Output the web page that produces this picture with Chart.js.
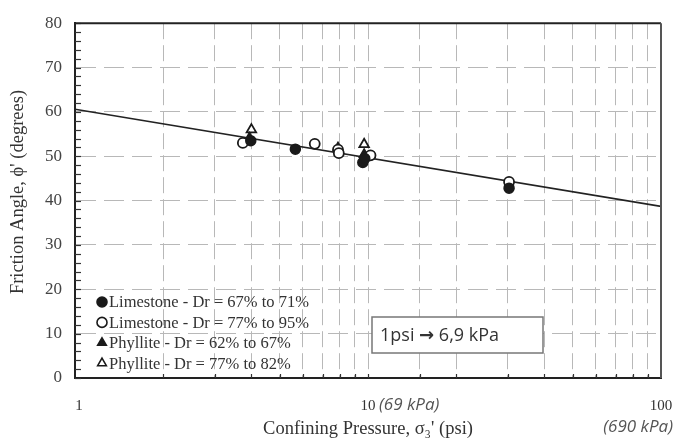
<!DOCTYPE html>
<html>
<head>
<meta charset="utf-8">
<script src="https://cdn.jsdelivr.net/npm/chart.js@4.4.0/dist/chart.umd.min.js"></script>
<style>
  html, body { margin: 0; padding: 0; background: #fff; }
</style>
</head>
<body>
<canvas id="chart" width="675" height="439"></canvas>
<script>
// Values (x = confining pressure in psi, y = friction angle in degrees)
const limeLowX = [3.98, 5.65, 9.6, 9.75, 30.3];
const limeLowY = [53.5, 51.6, 48.6, 49.5, 42.8];
const limeHighX = [3.74, 6.58, 7.9, 7.95, 10.2, 30.3];
const limeHighY = [53.0, 52.8, 51.5, 50.7, 50.2, 44.2];
const phylLowX = [3.94, 7.9, 9.7];
const phylLowY = [54.1, 51.9, 50.4];
const phylHighX = [4.0, 9.7];
const phylHighY = [56.0, 52.7];
const fitX = [1, 100];
const fitY = [60.6, 38.7];

const legendLabels = [
    'Limestone - Dr = 67% to 71%',
    'Limestone - Dr = 77% to 95%',
    'Phyllite - Dr = 62% to 67%',
    'Phyllite - Dr = 77% to 82%'
];
const xTickLabels = ['1', '10', '100'];
const yTickStep = 10;

function toPoints(xs, ys) {
    return xs.map((x, i) => ({ x: x, y: ys[i] }));
}

const ink = '#1a1a1a';
const serif = '"Liberation Serif", "DejaVu Serif", serif';
const sans = '"Open Sans", "Liberation Sans", sans-serif';

// Frame, inner ticks, legend, axis labels and the unit box
const decorPlugin = {
    id: 'decor',
    afterDatasetsDraw(chart) {
        const ctx = chart.ctx;
        const area = chart.chartArea;
        const xs = chart.scales.x;
        const ys = chart.scales.y;
        ctx.save();

        // inner tick marks
        ctx.strokeStyle = '#333';
        ctx.lineWidth = 1.2;
        ys.ticks.forEach(t => {
            const py = Math.round(ys.getPixelForValue(t.value)) + 0.5;
            ctx.beginPath();
            ctx.moveTo(area.left, py);
            ctx.lineTo(area.left + 6, py);
            ctx.stroke();
        });
        xs.ticks.forEach(t => {
            if (t.value <= 1 || t.value >= 100) return;
            const px = Math.round(xs.getPixelForValue(t.value)) + 0.5;
            ctx.beginPath();
            ctx.moveTo(px, area.bottom);
            ctx.lineTo(px, area.bottom - 4);
            ctx.stroke();
        });

        // top and right edges of the frame
        ctx.strokeStyle = '#222';
        ctx.lineWidth = 2;
        ctx.beginPath();
        ctx.moveTo(area.left, area.top);
        ctx.lineTo(area.right, area.top);
        ctx.stroke();
        ctx.strokeStyle = '#555';
        ctx.beginPath();
        ctx.moveTo(area.right, area.top);
        ctx.lineTo(area.right, area.bottom);
        ctx.stroke();

        // legend
        ctx.font = '16.5px ' + serif;
        ctx.textBaseline = 'middle';
        ctx.textAlign = 'left';
        legendLabels.forEach((label, i) => {
            const ds = chart.data.datasets[i];
            const ly = 302 + i * 20.4;
            ctx.fillStyle = ds.backgroundColor;
            ctx.strokeStyle = ds.borderColor;
            ctx.lineWidth = 1.6;
            Chart.helpers.drawPoint(ctx, { pointStyle: ds.pointStyle, radius: 5, borderWidth: 1.6, rotation: 0 }, 102, ly);
            ctx.fillStyle = '#333';
            ctx.fillText(label, 109, ly + 1);
        });

        // unit box
        ctx.fillStyle = '#fff';
        ctx.fillRect(372, 317, 171, 36);
        ctx.strokeStyle = '#777';
        ctx.lineWidth = 1.5;
        ctx.strokeRect(372, 317, 171, 36);
        ctx.fillStyle = '#333';
        ctx.textBaseline = 'alphabetic';
        let bx = 380;
        ctx.font = '18px ' + sans;
        ctx.fillText('1psi ', bx, 341);
        bx += ctx.measureText('1psi ').width;
        ctx.font = 'bold 18px "DejaVu Sans", sans-serif';
        ctx.fillText('\u2192', bx, 341);
        bx += ctx.measureText('\u2192').width;
        ctx.font = '18px ' + sans;
        ctx.fillText(' 6,9 kPa', bx, 341);

        ctx.restore();
    },
    afterDraw(chart) {
        const ctx = chart.ctx;
        const xs = chart.scales.x;
        ctx.save();
        ctx.fillStyle = '#333';
        ctx.textBaseline = 'middle';
        ctx.font = '15px ' + serif;
        ctx.textAlign = 'center';
        ctx.fillText(xTickLabels[0], xs.getPixelForValue(1) + 4, 406);
        ctx.fillText(xTickLabels[1], xs.getPixelForValue(10), 406);
        ctx.fillText(xTickLabels[2], xs.getPixelForValue(100), 406);

        ctx.fillStyle = '#555';
        ctx.font = 'italic 17px ' + sans;
        ctx.textAlign = 'left';
        ctx.fillText('(69 kPa)', 379, 405);
        ctx.textAlign = 'right';
        ctx.fillText('(690 kPa)', 673, 427);

        // axis titles
        ctx.fillStyle = '#333';
        ctx.font = '18.5px ' + serif;
        ctx.textAlign = 'center';
        ctx.fillText('Confining Pressure, \u03c3\u2083\' (psi)', 368, 429);

        ctx.translate(18, 192);
        ctx.rotate(-Math.PI / 2);
        ctx.fillText('Friction Angle, \u03d5\' (degrees)', 0, 0);
        ctx.restore();
    }
};

const ctx = document.getElementById('chart').getContext('2d');
new Chart(ctx, {
    type: 'scatter',
    data: {
        datasets: [
            {
                label: legendLabels[0],
                data: toPoints(limeLowX, limeLowY),
                pointStyle: 'circle',
                pointRadius: 5,
                backgroundColor: ink,
                borderColor: ink,
                borderWidth: 1.5
            },
            {
                label: legendLabels[1],
                data: toPoints(limeHighX, limeHighY),
                pointStyle: 'circle',
                pointRadius: 5,
                backgroundColor: '#fff',
                borderColor: ink,
                borderWidth: 1.8
            },
            {
                label: legendLabels[2],
                data: toPoints(phylLowX, phylLowY),
                pointStyle: 'triangle',
                pointRadius: 5.5,
                backgroundColor: ink,
                borderColor: ink,
                borderWidth: 1.5
            },
            {
                label: legendLabels[3],
                data: toPoints(phylHighX, phylHighY),
                pointStyle: 'triangle',
                pointRadius: 5.5,
                backgroundColor: '#fff',
                borderColor: ink,
                borderWidth: 1.8
            },
            {
                label: 'fit',
                type: 'line',
                data: toPoints(fitX, fitY),
                borderColor: '#222',
                borderWidth: 1.6,
                pointRadius: 0,
                fill: false,
                order: 5
            }
        ]
    },
    options: {
        responsive: false,
        animation: false,
        layout: { padding: { top: 14, right: 14, left: 0, bottom: 0 } },
        plugins: {
            legend: { display: false },
            tooltip: { enabled: false }
        },
        scales: {
            x: {
                type: 'logarithmic',
                min: 1,
                max: 100,
                afterFit: s => { s.height = 61; },
                ticks: { display: false, autoSkip: false },
                grid: {
                    drawTicks: false,
                    color: c => (c.tick && (c.tick.value <= 1 || c.tick.value >= 100)) ? 'rgba(0,0,0,0)' : '#b8b8b8',
                    lineWidth: 1
                },
                border: { color: '#222', width: 2, dash: [16, 6] }
            },
            y: {
                min: 0,
                max: 80,
                afterFit: s => { s.width = 75; },
                ticks: {
                    stepSize: 2,
                    autoSkip: false,
                    padding: 13,
                    color: '#444',
                    font: { family: serif, size: 17 },
                    callback: v => (v % yTickStep === 0 ? v : '')
                },
                grid: {
                    drawTicks: false,
                    color: c => {
                        const v = c.tick ? c.tick.value : 0;
                        return (v % yTickStep === 0 && v > 0 && v < 80) ? '#b8b8b8' : 'rgba(0,0,0,0)';
                    },
                    lineWidth: 1
                },
                border: { color: '#222', width: 2, dash: [20, 8] }
            }
        }
    },
    plugins: [decorPlugin]
});
</script>
</body>
</html>
